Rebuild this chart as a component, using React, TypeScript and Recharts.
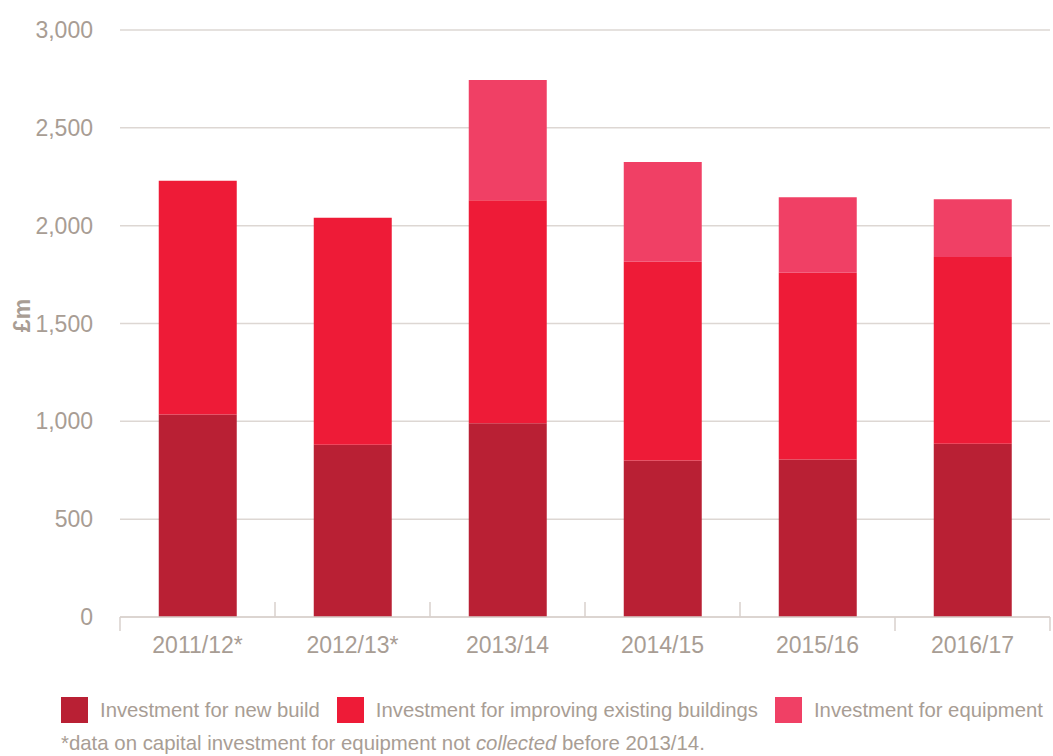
import { BarChart, Bar, XAxis, YAxis, CartesianGrid, Label } from 'recharts';

const categories = ['2011/12*', '2012/13*', '2013/14', '2014/15', '2015/16', '2016/17'];
const newBuild = [1035, 880, 990, 800, 805, 885];
const improving = [1195, 1160, 1140, 1015, 955, 955];
const equipment = [0, 0, 615, 510, 385, 295];
const yTicks = [0, 500, 1000, 1500, 2000, 2500, 3000];

const seriesNames = [
  'Investment for new build',
  'Investment for improving existing buildings',
  'Investment for equipment',
];
const colors = ['#b92034', '#ee1b37', '#f04065'];

const data = categories.map((year, i) => ({
  year,
  newBuild: newBuild[i],
  improving: improving[i],
  equipment: equipment[i],
}));

const W = 1053;
const H = 680;
const LEFT = 120;
const RIGHT = 3;
const BAND = (W - LEFT - RIGHT) / categories.length;
const TEXT = '#a89d94';
const LINE = '#d8d1cc';
const FONT = '"Liberation Sans", Arial, sans-serif';

// separators between categories: some point up, the outer ones point down
const upSeparators = [1, 2, 3, 4];

function XTick(props: any) {
  const { x, y, payload, index } = props;
  const left = x - BAND / 2;
  const up = upSeparators.includes(index);
  return (
    <g>
      <line
        x1={left}
        x2={left}
        y1={up ? y - 15 : y}
        y2={up ? y : y + 14}
        stroke={LINE}
        strokeWidth={1.5}
      />
      {index === categories.length - 1 && (
        <line x1={x + BAND / 2} x2={x + BAND / 2} y1={y} y2={y + 14} stroke={LINE} strokeWidth={1.5} />
      )}
      <text x={x} y={y + 36} textAnchor="middle" fill={TEXT} fontSize={23} fontFamily={FONT}>
        {payload.value}
      </text>
    </g>
  );
}

export default function App() {
  return (
    <div style={{ position: 'absolute', left: 0, top: 0, width: W, height: 756, background: '#fff', fontFamily: FONT }}>
      <BarChart
        width={W}
        height={H}
        data={data}
        margin={{ top: 30, right: RIGHT, left: 0, bottom: 0 }}
        barCategoryGap="25%"
      >
        <CartesianGrid vertical={false} stroke="#ddd7d3" strokeWidth={1.5} />
        <XAxis
          dataKey="year"
          height={63}
          tickLine={false}
          tickSize={0}
          tickMargin={0}
          axisLine={{ stroke: LINE, strokeWidth: 1.5 }}
          tick={<XTick />}
          interval={0}
        />
        <YAxis
          width={LEFT}
          domain={[0, 3000]}
          ticks={yTicks}
          tickLine={false}
          axisLine={false}
          tickSize={0}
          tickMargin={27}
          tickFormatter={(v: number) => v.toLocaleString('en-US')}
          tick={{ fill: TEXT, fontSize: 23, fontFamily: FONT }}
        >
          <Label
            content={({ viewBox }: any) => (
              <text
                x={0}
                y={0}
                transform={`translate(30, ${viewBox.y + viewBox.height / 2 - 8}) rotate(-90)`}
                textAnchor="middle"
                fill={TEXT}
                fontSize={23}
                fontWeight="bold"
                fontFamily={FONT}
              >
                £m
              </text>
            )}
          />
        </YAxis>
        <Bar dataKey="newBuild" name={seriesNames[0]} stackId="a" fill={colors[0]} isAnimationActive={false} />
        <Bar dataKey="improving" name={seriesNames[1]} stackId="a" fill={colors[1]} isAnimationActive={false} />
        <Bar dataKey="equipment" name={seriesNames[2]} stackId="a" fill={colors[2]} isAnimationActive={false} />
      </BarChart>
      <div style={{ position: 'absolute', left: 61, top: 697, display: 'flex', alignItems: 'center' }}>
        {seriesNames.map((name, i) => (
          <div key={name} style={{ display: 'flex', alignItems: 'center', marginRight: 17 }}>
            <div style={{ width: 27, height: 26, background: colors[i], marginRight: 12 }} />
            <span style={{ color: TEXT, fontSize: 20.3, whiteSpace: 'nowrap' }}>{name}</span>
          </div>
        ))}
      </div>
      <div style={{ position: 'absolute', left: 61, top: 732, color: TEXT, fontSize: 20.4, whiteSpace: 'nowrap' }}>
        *data on capital investment for equipment not <i>collected</i> before 2013/14.
      </div>
    </div>
  );
}
